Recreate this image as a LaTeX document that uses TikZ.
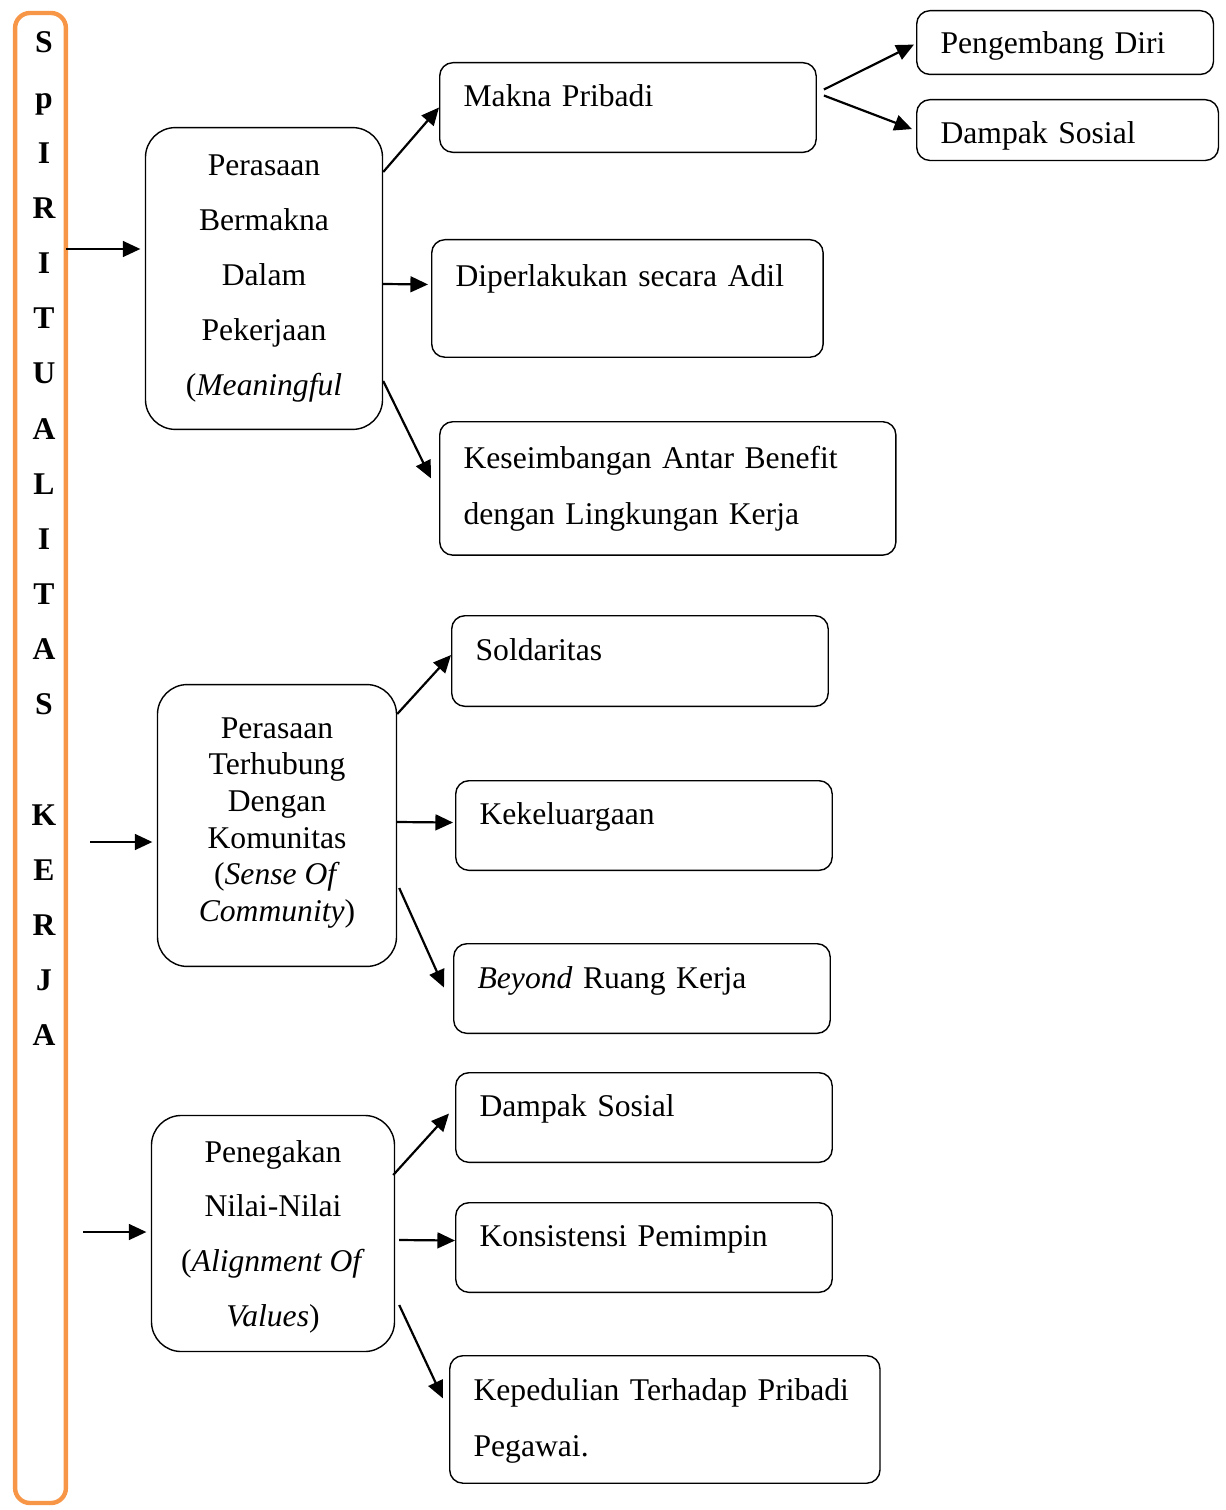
\documentclass[tikz,border=0pt]{standalone}
\usepackage{fontspec}
\setmainfont{Liberation Serif}
\usetikzlibrary{arrows.meta,positioning}
\definecolor{barorange}{HTML}{F79646}
\newdimen\pxlen
\pxlen=0.5669pt

\begin{document}
\begin{tikzpicture}[x=0.02cm,y=-0.02cm,
  every node/.style={font=\fontsize{18}{31.2}\selectfont},
  bar/.style={draw=barorange,line width=2.5pt,rounded corners=8.5pt,inner sep=0pt,
    minimum width=51\pxlen,minimum height=1496\pxlen},
  main/.style={draw,line width=0.8pt,rounded corners=17pt,align=center,inner sep=0pt},
  item/.style={draw,line width=0.8pt,rounded corners=7.5pt,anchor=north west,align=left,
    inner xsep=24\pxlen,inner ysep=0pt},
  arr/.style={line width=1.25pt,-{Triangle[length=10pt,width=9pt]}}]
\useasboundingbox (0,0) rectangle (1226,1510);

\node[bar] (bar) at (40.5,758) {};
\foreach \ch [count=\i from 0] in {S,p,I,R,I,T,U,A,L,I,T,A,S}
  \node[anchor=base,font=\fontsize{18}{31.2}\selectfont\bfseries] (t\i) at (44,53+55.15*\i) {\ch};
\foreach \ch [count=\i from 14] in {K,E,R,J,A}
  \node[anchor=base,font=\fontsize{18}{31.2}\selectfont\bfseries] (t\i) at (44,53+55.15*\i) {\ch};

% main groups
\node[main,minimum width=238\pxlen,minimum height=303\pxlen] (p1) at (264,278.5)
  {Perasaan\\Bermakna\\Dalam\\Pekerjaan\\(\textit{Meaningful}};
\node[main,minimum width=240\pxlen,minimum height=283\pxlen,font=\fontsize{18}{20.9}\selectfont,
  text depth=12\pxlen] (p2) at (277,825.5)
  {Perasaan\\Terhubung\\Dengan\\Komunitas\\(\textit{Sense Of}\\\textit{Community})};
\node[main,minimum width=244\pxlen,minimum height=237\pxlen] (p3) at (273,1233.5)
  {\\[-15pt]Penegakan\\Nilai-Nilai\\(\textit{Alignment Of}\\\textit{Values})};

% first group
\node[item,text width=330\pxlen,text height=44\pxlen,text depth=46\pxlen] (mk) at (439,62) {Makna Pribadi};
\node[item,text width=250\pxlen,text height=43\pxlen,text depth=21\pxlen] (pd) at (916,10) {Pengembang Diri};
\node[item,text width=255\pxlen,text height=44\pxlen,text depth=17\pxlen] (ds) at (916,99) {Dampak Sosial};
\node[item,text width=345\pxlen,text height=47\pxlen,text depth=71\pxlen] (dp) at (431,239) {Diperlakukan secara Adil};
\node[item,text width=410\pxlen,text height=47\pxlen,text depth=87\pxlen,font=\fontsize{18}{31.8}\selectfont] (ke) at (439,421)
  {Keseimbangan Antar Benefit\\dengan Lingkungan Kerja};

% second group
\node[item,text width=330\pxlen,text height=45\pxlen,text depth=46\pxlen] (so) at (451,615) {Soldaritas};
\node[item,text width=330\pxlen,text height=44\pxlen,text depth=46\pxlen] (kk) at (455,780) {Kekeluargaan};
\node[item,text width=330\pxlen,text height=45\pxlen,text depth=45\pxlen] (by) at (453,943) {\textit{Beyond} Ruang Kerja};

% third group
\node[item,text width=330\pxlen,text height=44\pxlen,text depth=46\pxlen] (ds2) at (455,1072) {Dampak Sosial};
\node[item,text width=330\pxlen,text height=44\pxlen,text depth=46\pxlen] (ks) at (455,1202) {Konsistensi Pemimpin};
\node[item,text width=384\pxlen,text height=45\pxlen,text depth=83\pxlen,font=\fontsize{18}{31.8}\selectfont] (kp) at (449,1355)
  {Kepedulian Terhadap Pribadi\\Pegawai.};

\coordinate (s1) at (66,249);
\coordinate (s2) at (90,842);
\coordinate (s3) at (83,1232);
\draw[arr,shorten >=2.5pt] (s1) -- (s1 -| p1.west);
\draw[arr,shorten >=2.5pt] (s2) -- (s2 -| p2.west);
\draw[arr,shorten >=2.5pt] (s3) -- (s3 -| p3.west);

\draw[arr] ([shift={(0,-106.5)}]p1.east) -- (mk.west);
\draw[arr] ([shift={(0,5.5)}]p1.east) -- ([shift={(-3,-14)}]dp.west);
\draw[arr] ([shift={(0,102.5)}]p1.east) -- ([shift={(-8,-10)}]ke.west);
\draw[arr] ([shift={(7,-18)}]mk.east) -- ([shift={(-2,2)}]pd.west);
\draw[arr] ([shift={(7,-12)}]mk.east) -- ([shift={(-4,-1)}]ds.west);

\draw[arr] ([shift={(0,-111.5)}]p2.east) -- ([shift={(0,-6)}]so.west);
\draw[arr] ([shift={(0,-3.5)}]p2.east) -- ([shift={(-2,-3)}]kk.west);
\draw[arr] ([shift={(2,62.5)}]p2.east) -- ([shift={(-9,-1)}]by.west);

\draw[arr] ([shift={(-2,-58.5)}]p3.east) -- ([shift={(-6,-4)}]ds2.west);
\draw[arr] ([shift={(4,6.5)}]p3.east) -- ([shift={(0,-7)}]ks.west);
\draw[arr] ([shift={(4,71.5)}]p3.east) -- ([shift={(-6,-21)}]kp.west);
\end{tikzpicture}
\end{document}
